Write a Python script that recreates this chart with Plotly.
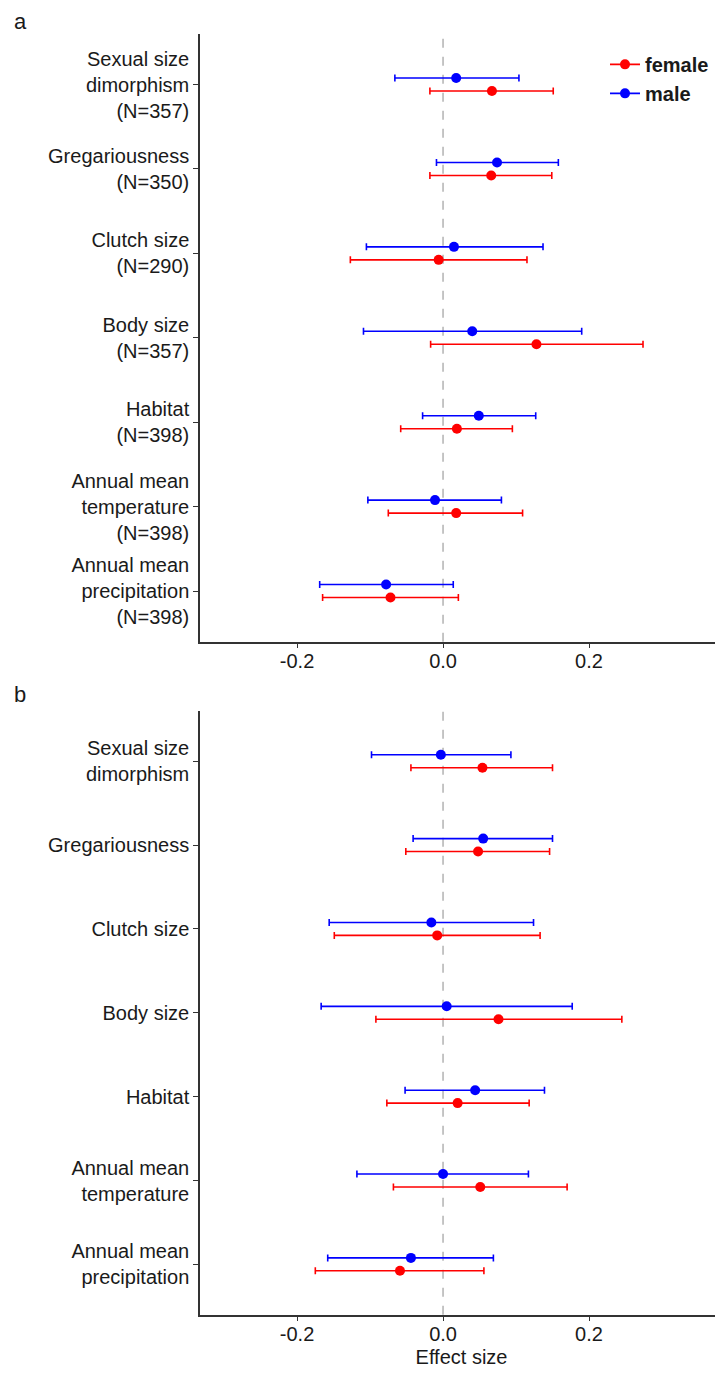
import plotly.graph_objects as go

# ---------------- data ----------------
labels_a = ["Sexual size<br>dimorphism<br>(N=357)", "Gregariousness<br>(N=350)",
            "Clutch size<br>(N=290)", "Body size<br>(N=357)", "Habitat<br>(N=398)",
            "Annual mean<br>temperature<br>(N=398)", "Annual mean<br>precipitation<br>(N=398)"]
labels_b = ["Sexual size<br>dimorphism", "Gregariousness", "Clutch size", "Body size",
            "Habitat", "Annual mean<br>temperature", "Annual mean<br>precipitation"]

# panel a
a_female_est = [0.067, 0.066, -0.006, 0.128, 0.019, 0.018, -0.072]
a_female_lo = [-0.018, -0.018, -0.127, -0.017, -0.058, -0.075, -0.165]
a_female_hi = [0.151, 0.149, 0.115, 0.274, 0.095, 0.109, 0.021]
a_male_est = [0.018, 0.074, 0.015, 0.040, 0.049, -0.011, -0.078]
a_male_lo = [-0.066, -0.009, -0.105, -0.109, -0.028, -0.103, -0.169]
a_male_hi = [0.104, 0.158, 0.137, 0.190, 0.127, 0.080, 0.014]

# panel b
b_female_est = [0.054, 0.048, -0.008, 0.076, 0.020, 0.051, -0.059]
b_female_lo = [-0.044, -0.051, -0.149, -0.092, -0.077, -0.068, -0.175]
b_female_hi = [0.150, 0.146, 0.133, 0.245, 0.118, 0.170, 0.056]
b_male_est = [-0.003, 0.055, -0.016, 0.005, 0.044, 0.000, -0.044]
b_male_lo = [-0.098, -0.041, -0.156, -0.167, -0.052, -0.118, -0.158]
b_male_hi = [0.093, 0.150, 0.124, 0.177, 0.139, 0.117, 0.069]

positions = [1, 2, 3, 4, 5, 6, 7]
dodge = 0.077
x_ticks = [-0.2, 0.0, 0.2]
x_ticktext = ["-0.2", "0.0", "0.2"]

RED = "#FF0000"
BLUE = "#0000FF"
FONT = "Liberation Sans, Arial, Helvetica, sans-serif"
TXT = "#1a1a1a"
AX = "#333333"
FS = 20

fig = go.Figure()


def add_series(est, lo, hi, color, offset, xa, ya, name):
    fig.add_trace(go.Scatter(
        x=est, y=[p + offset for p in positions], mode="markers",
        marker=dict(color=color, size=10),
        error_x=dict(type="data", symmetric=False,
                     array=[h - e for h, e in zip(hi, est)],
                     arrayminus=[e - l for e, l in zip(est, lo)],
                     color=color, thickness=1.6, width=3.5),
        xaxis=xa, yaxis=ya, showlegend=False, name=name, hoverinfo="x+name"))


add_series(a_male_est, a_male_lo, a_male_hi, BLUE, -dodge, "x", "y", "male")
add_series(a_female_est, a_female_lo, a_female_hi, RED, dodge, "x", "y", "female")
add_series(b_male_est, b_male_lo, b_male_hi, BLUE, -dodge, "x2", "y2", "male")
add_series(b_female_est, b_female_lo, b_female_hi, RED, dodge, "x2", "y2", "female")

# legend entries
for nm, col in [("female", RED), ("male", BLUE)]:
    fig.add_trace(go.Scatter(x=[None], y=[None], mode="lines+markers", name=nm,
                             line=dict(color=col, width=1.6),
                             marker=dict(color=col, size=10),
                             xaxis="x", yaxis="y", showlegend=True))

# page body has an 8px margin: figure pixel = screen pixel - 8
W, H = 715, 1360
L = 192
xr = [-0.333, 0.3836]
dom_a = [1 - 636 / H, 1 - 26 / H]
dom_b = [1 - 1311.5 / H, 1 - 705.5 / H]

common_x = dict(range=xr, tickvals=x_ticks, ticktext=x_ticktext, showgrid=False,
                zeroline=False, showline=True, linecolor=AX, linewidth=1.5,
                ticks="outside", ticklen=5, tickcolor=AX, tickwidth=1.3,
                ticklabelstandoff=-4,
                tickfont=dict(family=FONT, size=FS, color=TXT))
common_y = dict(range=[7.6, 0.4], tickvals=positions, showgrid=False, zeroline=False,
                showline=True, linecolor=AX, linewidth=1.5, ticks="outside",
                ticklen=5, tickcolor=AX, tickwidth=1.3,
                tickfont=dict(family=FONT, size=FS, color=TXT))

pw = W - L
fig.update_layout(
    width=W, height=H,
    margin=dict(l=L, r=0, t=0, b=0),
    paper_bgcolor="white", plot_bgcolor="white",
    xaxis=dict(domain=[0, 1], anchor="y", **common_x),
    yaxis=dict(domain=dom_a, anchor="x", ticktext=labels_a, **common_y),
    xaxis2=dict(domain=[0, 1], anchor="y2",
                title=dict(text="Effect size", font=dict(family=FONT, size=FS, color=TXT),
                           standoff=9),
                **common_x),
    yaxis2=dict(domain=dom_b, anchor="x2", ticktext=labels_b, **common_y),
    legend=dict(x=1.0 - 9 / pw, y=1 - 37 / H, xanchor="right", yanchor="top",
                font=dict(family=FONT, size=FS, color=TXT, weight="bold"),
                bgcolor="rgba(0,0,0,0)", borderwidth=0, itemwidth=30,
                tracegroupgap=4),
    showlegend=True,
)

# dashed zero lines
for xa, ya in [("x", "y"), ("x2", "y2")]:
    fig.add_shape(type="line", x0=0, x1=0, y0=0, y1=1, xref=xa, yref=f"{ya} domain",
                  line=dict(color="#b3b3b3", width=1.5, dash="dash"), layer="below")

# panel letters
for letter, ypx in [("a", 14), ("b", 689)]:
    fig.add_annotation(text=letter, x=(4 - L) / pw, y=1 - ypx / H, xref="paper", yref="paper",
                       xanchor="left", yanchor="middle", showarrow=False,
                       font=dict(family=FONT, size=22, color=TXT))

fig.write_html("out.html")
